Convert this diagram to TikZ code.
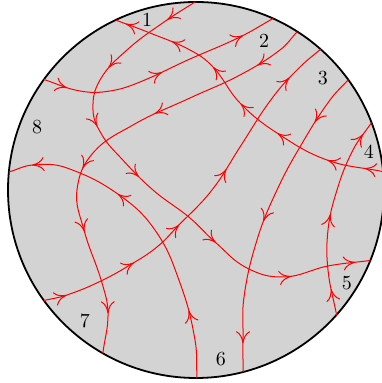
\documentclass[tikz,border=0pt]{standalone}
\usepackage{tikz}
\usetikzlibrary{arrows.meta,decorations.markings}
\usepackage{xcolor}
\definecolor{diskgray}{RGB}{211,211,211}
\definecolor{flowred}{RGB}{255,0,0}
\definecolor{lineblack}{RGB}{0,0,0}

\begin{document}
\begin{tikzpicture}[x=0.5pt, y=0.5pt, >={To[length=6pt,width=7pt]}, flow/.style={color=flowred, line width=0.5pt}, arrowat/.style={postaction={decorate, decoration={markings, mark=at position #1 with {\arrow{>}}}}}]
\useasboundingbox (-196,-193) rectangle (185,190);
\draw[fill=diskgray, draw=lineblack, line width=0.9pt] (0,0) circle[radius=94pt];
\foreach \n/\a in {a1/5.6, a2/115.3, b1/90.3, b2/-22, c1/144, c2/65.8, d1/57.4, d2/-119.7, e1/-89.7, e2/174.5, f1/-144, f2/48.5, g1/35.9, g2/-75.5, h1/-41.6, h2/21}
  \coordinate (\n) at (\a:188);
\foreach \t/\a/\r in {1/106/177, 2/65.5/164, 3/41.4/169, 4/12.4/177, 5/-31.6/177, 6/-81.6/171, 7/-130.3/172, 8/158.4/171}
  \node (l\t) at (\a:\r) {\t};
\draw[flow, arrowat/.list={0.06,0.18,0.36,0.51,0.655,0.81,0.965}] (a1) to[out=168,in=-20] (131,30) to[out=160,in=-33] (81,57) to[out=147,in=-46] (44,87) to[out=134,in=-47] (17,123) to[out=133,in=-28] (-6,140) to[out=152,in=-22] (-46,157) to[out=158,in=-21] (a2);
\draw[flow, arrowat/.list={0.065,0.215,0.34,0.47,0.67,0.84,0.97}] (b1) to[out=213,in=35] (-29,170) to[out=215,in=42] (-69,140) to[out=222,in=60] (-96,110) to[out=240,in=92] (-103,80) to[out=272,in=120] (-94,55) to[out=-60,in=133] (-76,33) to[out=-47,in=139] (-43,0) to[out=-41,in=140] (-6,-28) to[out=-40,in=139] (19,-52) to[out=-41,in=153] (51,-78) to[out=-27,in=181] (87,-87) to[out=1,in=191] (132,-76) to[out=11,in=188] (b2);
\draw[flow, arrowat/.list={0.10,0.50,0.86}] (c1) to[out=-18,in=170] (-116,99) to[out=-10,in=189] (-86,99) to[out=9,in=202] (-56,108) to[out=22,in=204] (-6,131) to[out=24,in=206] (44,153) to[out=26,in=209] (c2);
\draw[flow, arrowat/.list={0.117,0.37,0.575,0.72,0.91}] (d1) to[out=-133,in=37] (84,140) to[out=-143,in=28] (44,115) to[out=-152,in=25] (-6,92) to[out=-155,in=30] (-63,65) to[out=-150,in=49] (-103,37) to[out=-131,in=83] (-119,0) to[out=-97,in=105] (-112,-40) to[out=-75,in=106] (-94,-93) to[out=-74,in=91] (-88,-123) to[out=-89,in=83] (d2);
\draw[flow, arrowat/.list={0.21,0.64,0.925}] (e1) to[out=93,in=-80] (-1,-150) to[out=100,in=-70] (-16,-93) to[out=110,in=-56] (-39,-43) to[out=124,in=-36] (-74,-7) to[out=144,in=-20] (-129,22) to[out=160,in=4] (-163,25) to[out=184,in=16] (e2);
\draw[flow, arrowat/.list={0.06,0.255,0.41,0.60,0.89}] (f1) to[out=13,in=199] (-129,-105) to[out=19,in=206] (-93,-90) to[out=26,in=211] (-66,-75) to[out=31,in=219] (-39,-57) to[out=39,in=226] (-19,-37) to[out=46,in=232] (16,0) to[out=52,in=237] (44,43) to[out=57,in=233] (77,93) to[out=53,in=225] (104,123) to[out=45,in=221] (f2);
\draw[flow, arrowat/.list={0.17,0.52,0.91}] (g1) to[out=-132,in=54] (134,90) to[out=-126,in=60] (104,43) to[out=-121,in=65] (81,0) to[out=-115,in=73] (61,-50) to[out=-107,in=82] (48,-107) to[out=-98,in=89] (47,-147) to[out=-91,in=90] (g2);
\draw[flow, arrowat/.list={0.13,0.50,0.93}] (h1) to[out=101,in=-84] (132,-80) to[out=96,in=-96] (132,-40) to[out=84,in=-107] (141,0) to[out=73,in=-117] (157,40) to[out=63,in=-124] (h2);
\end{tikzpicture}
\end{document}
